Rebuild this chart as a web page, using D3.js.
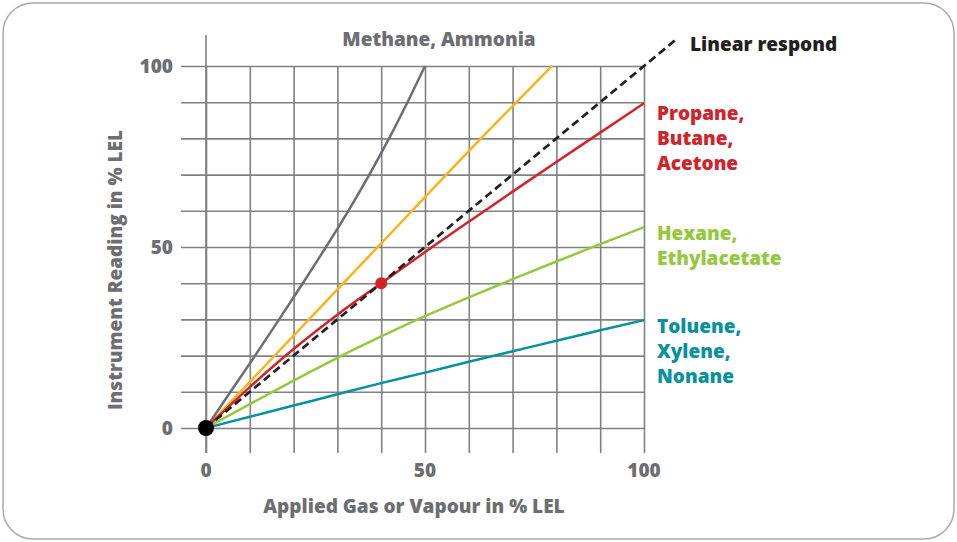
<!DOCTYPE html>
<html>
<head>
<meta charset="utf-8">
<script src="https://cdn.jsdelivr.net/npm/d3@7"></script>
<style>
  body { margin: 0; background: #fff; }
  svg text { font-family: "Open Sans", "Noto Sans", sans-serif; font-weight: 800; }
</style>
</head>
<body>
<svg id="chart" width="957" height="542"></svg>
<script>
// values (x = applied %LEL, y = reading %LEL)
const methaneX = [0, 5.6, 11.2, 16.7, 22.1, 27.4, 32.5, 37.3, 41.8, 46, 50]
const methaneY = [0, 10, 20, 30, 40, 50, 60, 70, 80, 90, 100]
const yellowX = [0, 20, 40, 60, 79]
const yellowY = [0, 25.5, 51, 76.5, 100]
const propaneX = [0, 10, 20, 30, 40, 50, 60, 70, 80, 90, 100]
const propaneY = [0, 11.3, 21.8, 31.3, 40, 48.6, 57, 65.3, 73.5, 81.6, 89.7]
const hexaneX = [0, 10, 20, 30, 40, 50, 60, 70, 80, 90, 100]
const hexaneY = [0, 6.6, 13.1, 19.4, 25.3, 30.9, 36.1, 41.1, 46, 50.8, 55.5]
const tolueneX = [0, 10, 20, 30, 40, 50, 60, 70, 80, 90, 100]
const tolueneY = [0, 3.1, 6.2, 9.3, 12.4, 15.3, 18.3, 21.2, 24.1, 27, 29.8]
const linearX = [0, 107]
const linearY = [0, 107]
const gridTicks = [0, 10, 20, 30, 40, 50, 60, 70, 80, 90, 100]
const labelTicks = [0, 50, 100]
const calPoint = [40, 40]

const svg = d3.select('svg#chart')
const x = d3.scaleLinear().domain([0, 100]).range([206, 644])
const y = d3.scaleLinear().domain([0, 100]).range([428, 66])
const grey = '#6d6e71'
const gridColor = '#808184'
const fontSize = 19

// rounded frame
svg.append('rect')
    .attr('x', 3).attr('y', 3)
    .attr('width', 951).attr('height', 536)
    .attr('rx', 30)
    .attr('fill', 'none')
    .attr('stroke', '#a7a9ac')
    .attr('stroke-width', 1.5)

// horizontal grid (runs left past the axis as tick marks)
let hGrid = svg.append('g')
    .attr('transform', `translate(${x(100)},0)`)
    .call(d3.axisLeft(y).tickValues(gridTicks).tickSize(x(100) - 181).tickFormat(''))
hGrid.select('.domain').remove()
hGrid.selectAll('line').attr('stroke', gridColor).attr('stroke-width', 1.6)

// vertical grid (runs down past the axis as tick marks)
let vGrid = svg.append('g')
    .attr('transform', 'translate(0,453)')
    .call(d3.axisBottom(x).tickValues(gridTicks).tickSize(-(453 - y(100))).tickFormat(''))
vGrid.select('.domain').remove()
vGrid.selectAll('line').attr('stroke', gridColor).attr('stroke-width', 1.6)

// y axis line goes up a bit further
svg.append('line')
    .attr('x1', x(0)).attr('x2', x(0))
    .attr('y1', 35).attr('y2', 453)
    .attr('stroke', gridColor).attr('stroke-width', 1.6)

// tick labels
svg.selectAll('text.ylab')
    .data(labelTicks)
    .enter()
    .append('text')
    .attr('class', 'ylab')
    .attr('x', 173)
    .attr('y', d => y(d))
    .attr('dy', '0.36em')
    .attr('text-anchor', 'end')
    .attr('font-size', fontSize)
    .attr('fill', grey)
    .text(d => d)

svg.selectAll('text.xlab')
    .data(labelTicks)
    .enter()
    .append('text')
    .attr('class', 'xlab')
    .attr('x', d => x(d))
    .attr('y', 470)
    .attr('dy', '0.36em')
    .attr('text-anchor', 'middle')
    .attr('font-size', fontSize)
    .attr('fill', grey)
    .text(d => d)

// axis titles
svg.append('text')
    .attr('x', 414).attr('y', 513)
    .attr('text-anchor', 'middle')
    .attr('font-size', fontSize)
    .attr('fill', grey)
    .text('Applied Gas or Vapour in % LEL')

svg.append('text')
    .attr('transform', 'translate(122,270) rotate(-90)')
    .attr('text-anchor', 'middle')
    .attr('font-size', fontSize)
    .attr('fill', grey)
    .text('Instrument Reading in % LEL')

// response curves
const line = d3.line().x(d => x(d[0])).y(d => y(d[1])).curve(d3.curveMonotoneX)
const series = [
    { xs: tolueneX, ys: tolueneY, color: '#0a919e' },
    { xs: hexaneX, ys: hexaneY, color: '#95c93d' },
    { xs: yellowX, ys: yellowY, color: '#fbb417' },
    { xs: methaneX, ys: methaneY, color: '#6d6e71' },
    { xs: propaneX, ys: propaneY, color: '#d2232a' }
]
svg.selectAll('path.curve')
    .data(series)
    .enter()
    .append('path')
    .attr('class', 'curve')
    .attr('d', s => line(s.xs.map((v, i) => [v, s.ys[i]])))
    .attr('fill', 'none')
    .attr('stroke', s => s.color)
    .attr('stroke-width', 2.5)

svg.append('path')
    .attr('d', line(linearX.map((v, i) => [v, linearY[i]])))
    .attr('fill', 'none')
    .attr('stroke', '#231f20')
    .attr('stroke-width', 2.7)
    .attr('stroke-dasharray', '8,4.5')

svg.append('circle')
    .attr('cx', x(calPoint[0])).attr('cy', y(calPoint[1]))
    .attr('r', 6)
    .attr('fill', '#d2232a')

svg.append('circle')
    .attr('cx', x(0)).attr('cy', y(0))
    .attr('r', 8)
    .attr('fill', '#000')

// labels
function label(lines, lx, ly, color, anchor) {
    let t = svg.append('text')
        .attr('x', lx).attr('y', ly)
        .attr('text-anchor', anchor || 'start')
        .attr('font-size', fontSize)
        .attr('fill', color)
    lines.forEach((s, i) => {
        t.append('tspan').attr('x', lx).attr('dy', i ? 25 : 0).text(s)
    })
}
label(['Methane, Ammonia'], 439, 46, grey, 'middle')
label(['Linear respond'], 690, 51, '#231f20')
label(['Propane,', 'Butane,', 'Acetone'], 657, 120, '#d2232a')
label(['Hexane,', 'Ethylacetate'], 657, 240, '#95c93d')
label(['Toluene,', 'Xylene,', 'Nonane'], 657, 333, '#0a919e')
</script>
</body>
</html>
